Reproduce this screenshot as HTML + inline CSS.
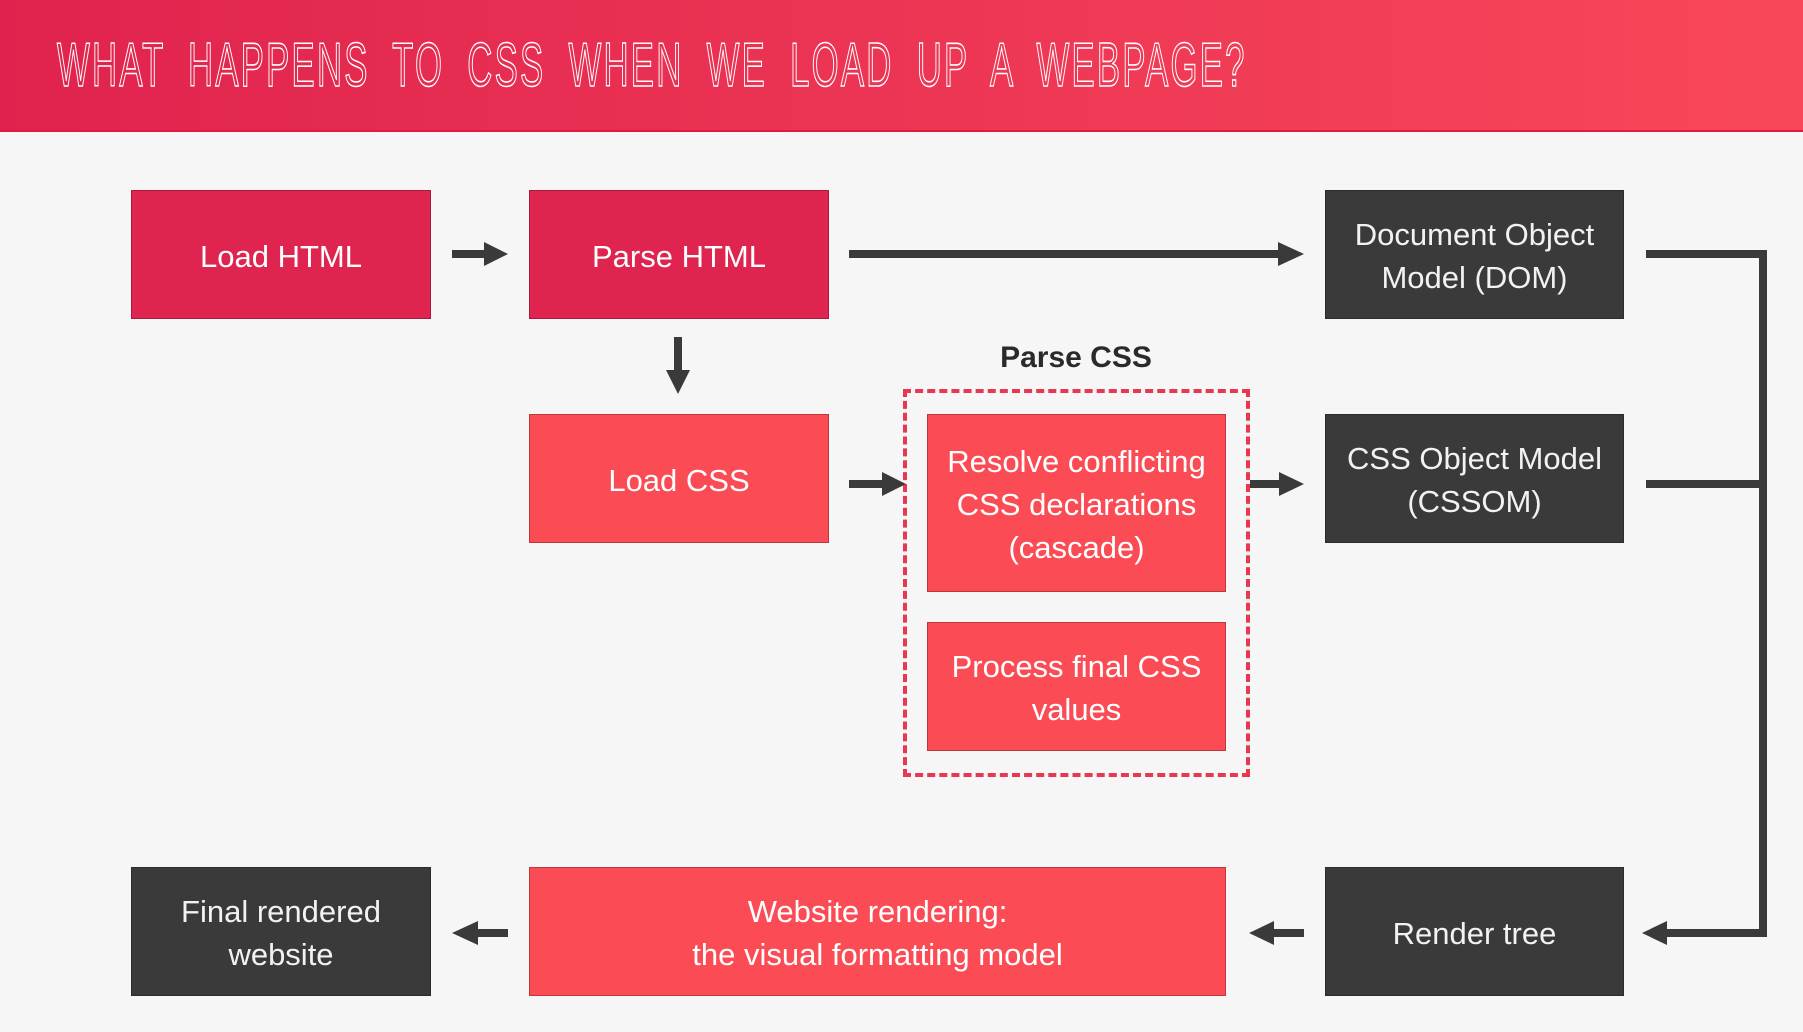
<!DOCTYPE html>
<html><head><style>
body{margin:0;width:1803px;height:1032px;background:#f6f6f6;overflow:hidden;position:relative;font-family:"Liberation Sans",sans-serif}
.hd{position:absolute;left:0;top:0;width:1803px;height:130px;background:linear-gradient(90deg,#e0234e,#f9475a);border-bottom:2px solid #e01a40}
.tt{position:absolute;left:57px;top:30px;font-size:62px;color:transparent;-webkit-text-stroke:1.6px #fff;letter-spacing:4px;word-spacing:20px;transform:scaleX(0.56);transform-origin:left top;white-space:nowrap;font-weight:normal}
.b{position:absolute;display:flex;align-items:center;justify-content:center;text-align:center;color:#fff;font-size:31px;line-height:43px;box-sizing:border-box;border:1px solid rgba(0,0,0,.25);padding-top:3px}
.r1{background:#df2450}.r2{background:#fb4b55}.d{background:#3a3a3a;color:#f2f2f2}
</style></head><body>
<div class="hd"><div class="tt">WHAT HAPPENS TO CSS WHEN WE LOAD UP A WEBPAGE?</div></div>
<div class="b r1" style="left:131px;top:190px;width:300px;height:129px">Load HTML</div>
<div class="b r1" style="left:529px;top:190px;width:300px;height:129px">Parse HTML</div>
<div class="b d" style="left:1325px;top:190px;width:299px;height:129px">Document Object<br>Model (DOM)</div>
<div class="b r2" style="left:529px;top:414px;width:300px;height:129px">Load CSS</div>
<div class="b d" style="left:1325px;top:414px;width:299px;height:129px">CSS Object Model<br>(CSSOM)</div>
<div class="b r2" style="left:927px;top:414px;width:299px;height:178px">Resolve conflicting<br>CSS declarations<br>(cascade)</div>
<div class="b r2" style="left:927px;top:622px;width:299px;height:129px">Process final CSS<br>values</div>
<div class="b d" style="left:131px;top:867px;width:300px;height:129px">Final rendered<br>website</div>
<div class="b r2" style="left:529px;top:867px;width:697px;height:129px">Website rendering:<br>the visual formatting model</div>
<div class="b d" style="left:1325px;top:867px;width:299px;height:129px">Render tree</div>
<div style="position:absolute;left:903px;top:389px;width:347px;height:388px;box-sizing:border-box;border:4px dashed #e8384f"></div>
<div style="position:absolute;left:900px;top:341px;width:352px;text-align:center;font-size:30px;font-weight:bold;color:#2a2a2a">Parse CSS</div>
<svg width="1803" height="1032" style="position:absolute;left:0;top:0">
<g fill="#3a3a3a" stroke="none">
<rect x="452" y="250" width="35" height="8"/><polygon points="484,242 508,254 484,266"/>
<rect x="849" y="250" width="432" height="8"/><polygon points="1278,242 1304,254 1278,266"/>
<rect x="674" y="337" width="8" height="36"/><polygon points="666,370 690,370 678,394"/>
<rect x="849" y="480" width="36" height="8"/><polygon points="882,472 906,484 882,496"/>
<rect x="1250" y="480" width="32" height="8"/><polygon points="1279,472 1304,484 1279,496"/>
<rect x="1646" y="250" width="121" height="8"/>
<rect x="1646" y="480" width="121" height="8"/>
<rect x="1759" y="250" width="8" height="687"/>
<rect x="1664" y="929" width="103" height="8"/><polygon points="1667,921 1642,933 1667,945"/>
<rect x="1272" y="929" width="32" height="8"/><polygon points="1274,921 1249,933 1274,945"/>
<rect x="476" y="929" width="32" height="8"/><polygon points="478,921 452,933 478,945"/>
</g></svg>
</body></html>
